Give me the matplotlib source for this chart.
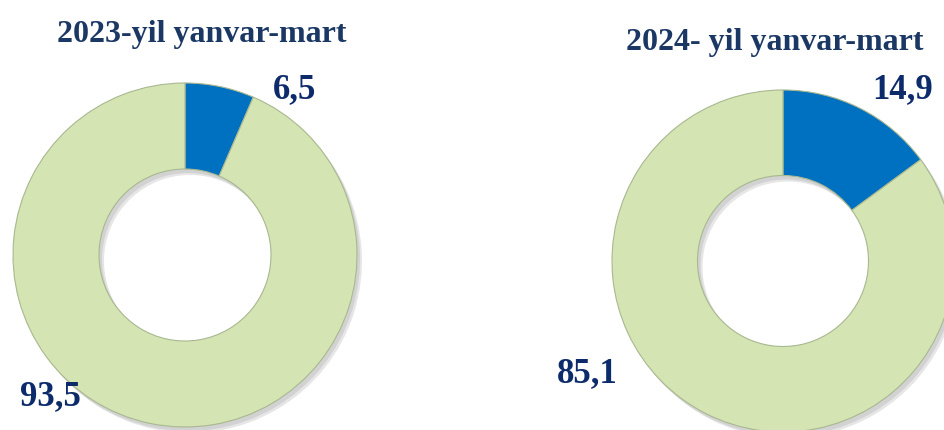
import matplotlib.pyplot as plt

# shares (%) for each period: [blue part, green part]
titles = ["2023-yil yanvar-mart", "2024- yil yanvar-mart"]
shares_2023 = [6.5, 93.5]
shares_2024 = [14.9, 85.1]
labels_2023 = ["6,5", "93,5"]
labels_2024 = ["14,9", "85,1"]

blue = "#0070C0"
green = "#D4E4B2"
navy = "#0D2B6B"
title_navy = "#1B3864"

fig = plt.figure(figsize=(9.44, 4.30), dpi=100)
ax = fig.add_axes([0, 0, 1, 1])

font = dict(family="Liberation Serif", weight="bold")


def donut(values, center, radius):
    # soft shadow under the ring
    for off, col in [((5, -6), "#e6e6e6"), ((3, -4), "#d2d2d2")]:
        ax.pie(values, startangle=90, counterclock=False, radius=radius,
               center=(center[0] + off[0], center[1] + off[1]),
               colors=[col, col],
               wedgeprops=dict(width=radius * 0.5, linewidth=0), frame=True)
    ax.pie(values, startangle=90, counterclock=False, radius=radius, center=center,
           colors=[blue, green],
           wedgeprops=dict(width=radius * 0.5, edgecolor="#a8b890", linewidth=0.8),
           frame=True)


donut(shares_2023, (185, 175), 172)
donut(shares_2024, (783, 169), 171)
ax.set_xlim(0, 944)
ax.set_ylim(0, 430)
ax.set_aspect("equal")
ax.axis("off")

ax.text(202, 388, titles[0], ha="center", va="baseline", fontsize=23,
        color=title_navy, **font)
ax.text(775, 380, titles[1], ha="center", va="baseline", fontsize=23,
        color=title_navy, **font)

ax.text(295, 332, labels_2023[0], ha="center", va="baseline", fontsize=25, color=navy, **font)
ax.text(50, 25, labels_2023[1], ha="center", va="baseline", fontsize=25, color=navy, **font)
ax.text(903, 332, labels_2024[0], ha="center", va="baseline", fontsize=25, color=navy, **font)
ax.text(587, 48, labels_2024[1], ha="center", va="baseline", fontsize=25, color=navy, **font)

fig.savefig("out.png", dpi=100, facecolor="white")
